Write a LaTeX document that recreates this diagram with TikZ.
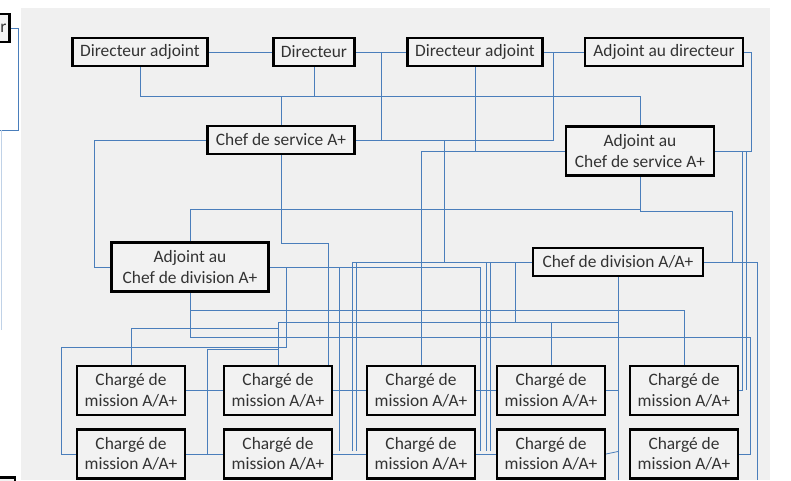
\documentclass[tikz,border=0pt]{standalone}
\usepackage{fontspec}
\setmainfont{Carlito}
\usetikzlibrary{positioning}
\definecolor{linkblue}{HTML}{4A7EBB}
\definecolor{paper}{HTML}{F0F0F0}
\definecolor{boxfill}{HTML}{F2F2F2}
\definecolor{ink}{HTML}{333333}
\pgfdeclarelayer{back}
\pgfdeclarelayer{wires}
\pgfsetlayers{back,wires,main}

\begin{document}
\begin{tikzpicture}[
    x=1pt, y=-1pt,
    box/.style={rectangle, draw=black, line width=2.5pt, fill=boxfill, text=ink, align=center, inner sep=0pt, font=\fontsize{17.4}{20.5}\selectfont, minimum height=28pt},
    tall/.style={box, minimum height=48.6pt},
    mission/.style={tall, minimum width=107.6pt},
    link/.style={draw=linkblue, line width=0.8pt},
    faint/.style={draw=linkblue!35, line width=0.8pt}
]
\useasboundingbox (0,0) rectangle (791,480);
\clip (0,0) rectangle (791,480);

% Background
\begin{pgfonlayer}{back}
\fill[white] (0,0) rectangle (791,480);
\fill[paper] (21,8) rectangle (770,480);
\end{pgfonlayer}

% Nodes
\node[box, minimum width=134.6pt] (da1) at (140,52) {Directeur adjoint};
\node[box, minimum width=80.6pt] (dir) at (314,52) {Directeur};
\node[box, minimum width=134.6pt] (da2) at (475,52) {Directeur adjoint};
\node[box, minimum width=157.6pt] (ad) at (664,52) {Adjoint au directeur};
\node[box, minimum width=146.6pt] (cs) at (281,140) {Chef de service A+};
\node[tall, minimum width=147.6pt] (acs) at (640,151) {Adjoint au\\Chef de service A+};
\node[tall, minimum width=156.6pt] (acd) at (190,267) {Adjoint au\\Chef de division A+};
\node[box, minimum width=169.6pt] (cd) at (618,262) {Chef de division A/A+};

\node[mission] (m11) at (131,390.5) {Chargé de\\mission A/A+};
\node[mission] (m21) at (278,390.5) {Chargé de\\mission A/A+};
\node[mission] (m31) at (421,390.5) {Chargé de\\mission A/A+};
\node[mission] (m41) at (551,390.5) {Chargé de\\mission A/A+};
\node[mission] (m51) at (684,390.5) {Chargé de\\mission A/A+};
\node[mission, below=12.4pt of m11] (m12) {Chargé de\\mission A/A+};
\node[mission, below=12.4pt of m21] (m22) {Chargé de\\mission A/A+};
\node[mission, below=12.4pt of m31] (m32) {Chargé de\\mission A/A+};
\node[mission, below=12.4pt of m41] (m42) {Chargé de\\mission A/A+};
\node[mission, below=12.4pt of m51] (m52) {Chargé de\\mission A/A+};

% cut-off boxes at the left edge
\node[box, anchor=east, text width=30pt, align=right, inner xsep=3pt] (ad0) at (10.8,28) {r};
\node[box, anchor=north east, minimum width=60pt, minimum height=40pt] (m0) at (16,476) {};

\begin{pgfonlayer}{wires}
% Links, top
\draw[link] (da1) -- (dir);
\draw[link] (dir) -- (da2);
\draw[link] (da2) -- (ad);
\draw[link] (da1.south) |- (640,96) -- (acs.north);
\draw[link] (dir.south) -- (314,96);
\draw[link] (cs.north) -- (281,96);
\draw[link] (381,52) -- (381,140);
\draw[link] (da2.east) -| (553,140) -- (cs.east);
\draw[link] (ad.east) -| (751,151) -- (acs.east);
\draw[link] (da2.south) -- (475,151);
\draw[link] (m31.north) |- (acs.west);
\draw[link] (444,140) -- (444,262);
\draw[link] (ad0.east) -| (18,130) -- (0,130);
\draw[faint] (1,130) -- (1,330);

% Links, middle
\draw[link] (cs.west) -| (94,267) -- (acd.west);
\draw[link] (acd.north) |- (640,209) -- (acs.south);
\draw[link] (acs.south) |- (732,211) |- (cd.east);
\draw[link] (cd.east) -| (757,480);
\draw[link] (cs.south) |- (328,243) -- (328,365);
\draw[link] (cd.west) -| (352,451);
\draw[link] (acd.east) -| (480,451);
\draw[link] (339,267) -- (339,451);
\draw[link] (356,262) -- (356,451);
\draw[link] (486,262) -- (486,451);
\draw[link] (490,262) -- (490,451);
\draw[link] (515,262) -- (515,322);
\draw[link] (cd.south) -- (618,480);
\draw[link] (746,151) -- (746,390);

% Links, down to the missions
\draw[link] (m21.north) |- (618,322);
\draw[link] (m41.north) -- (551,322);
\draw[link] (m11.north) |- (278,328);
\draw[link] (m22.west) -| (207,349) -- (278,349);
\draw[link] (m12.west) -| (61,347) -| (286,267);
\draw[link] (acd.south) |- (684,310) -- (m51.north);
\draw[link] (acd.south) |- (750,337) |- (m52.east);
\draw[link] (m51.east) -| (742,151);

% Links, between the missions
\draw[link] (m11) -- (m21);
\draw[link] (m21) -- (m31);
\draw[link] (m31) -- (m41);
\draw[link] (m41.east) -- (618,390.5);
\draw[link] (m12) -- (m22);
\draw[link] (m22) -- (m32);
\draw[link] (m32) -- (m42);
\draw[link] (m42.east) -- (618,451.5);
\end{pgfonlayer}

\end{tikzpicture}
\end{document}
